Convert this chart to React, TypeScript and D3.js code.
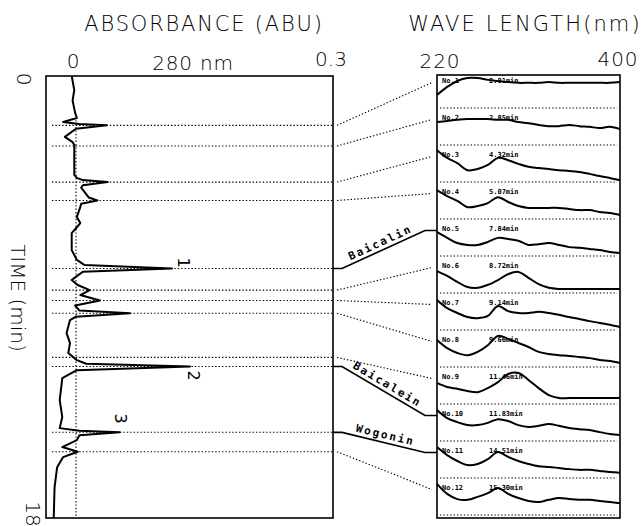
import React from "react";
import * as d3 from "d3";

// chromatogram at 280 nm, time (min) vs absorbance (ABU)
const traceTime = [
  0, 0.57, 1.0, 1.5, 1.71, 1.87, 1.95, 2.01, 2.15, 2.48, 2.69, 2.81, 4.03, 4.15, 4.24, 4.32, 4.45,
  4.55, 4.77, 4.95, 5.07, 5.2, 5.34, 5.74, 5.99, 6.2, 6.4, 7.09, 7.49, 7.7, 7.84, 7.97, 8.2, 8.31,
  8.51, 8.72, 8.92, 9.14, 9.35, 9.55, 9.66, 9.8, 9.94, 10.47, 10.88, 11.28, 11.57, 11.72, 11.83,
  11.98, 12.3, 13.2, 13.89, 14.34, 14.45, 14.51, 14.63, 14.83, 15.11, 15.3, 15.52, 15.93, 16.74, 18,
];
const traceAbs = [
  -0.005, -0.002, -0.004, -0.001, 0.001, -0.015, 0.004, 0.036, 0.0, -0.013, -0.004, -0.002, -0.002,
  0.001, 0.008, 0.037, 0.008, 0.006, 0.011, 0.015, 0.025, 0.006, 0.005, 0.001, 0.005, 0.0, -0.005,
  -0.005, 0.001, 0.01, 0.112, 0.008, -0.001, -0.005, 0.002, 0.016, 0.005, 0.028, -0.001, 0.004,
  0.063, 0.0, -0.007, -0.011, -0.007, -0.009, 0.001, 0.012, 0.133, 0.001, -0.016, -0.019, -0.016,
  -0.019, 0.004, 0.051, 0.004, 0.001, -0.016, 0.002, -0.015, -0.022, -0.025, -0.026,
];

// peaks whose spectra are shown on the right
const peakNo = [1, 2, 3, 4, 5, 6, 7, 8, 9, 10, 11, 12];
const peakTime = [2.01, 2.85, 4.32, 5.07, 7.84, 8.72, 9.14, 9.66, 11.46, 11.83, 14.51, 15.3];

const compoundPeak = [5, 10, 11];
const compoundName = ["Baicalin", "Baicalein", "Wogonin"];

const markText = ["1", "2", "3"];
const markTime = [7.6, 12.2, 13.95];
const markAbs = [0.125, 0.137, 0.052];

// UV spectra, relative absorbance per panel
const wavelengths = [220, 230, 240, 250, 260, 270, 280, 290, 300, 310, 320, 330, 340, 350, 360, 370, 380, 390, 400];
const spectra = [
  [0.35, 0.57, 0.73, 0.81, 0.81, 0.76, 0.73, 0.7, 0.68, 0.68, 0.68, 0.7, 0.68, 0.68, 0.68, 0.68, 0.68, 0.68, 0.7],
  [0.62, 0.65, 0.68, 0.7, 0.7, 0.7, 0.68, 0.68, 0.62, 0.59, 0.54, 0.51, 0.51, 0.54, 0.51, 0.49, 0.46, 0.49, 0.43],
  [0.86, 0.65, 0.51, 0.32, 0.35, 0.46, 0.65, 0.59, 0.49, 0.41, 0.38, 0.35, 0.32, 0.3, 0.27, 0.22, 0.16, 0.11, 0.05],
  [0.78, 0.62, 0.49, 0.32, 0.35, 0.43, 0.59, 0.46, 0.35, 0.3, 0.3, 0.3, 0.3, 0.27, 0.24, 0.24, 0.19, 0.16, 0.11],
  [0.65, 0.49, 0.35, 0.3, 0.3, 0.38, 0.49, 0.46, 0.41, 0.3, 0.32, 0.35, 0.3, 0.24, 0.22, 0.19, 0.16, 0.11, 0.08],
  [0.59, 0.46, 0.3, 0.16, 0.14, 0.22, 0.35, 0.51, 0.57, 0.41, 0.24, 0.14, 0.11, 0.11, 0.11, 0.11, 0.11, 0.11, 0.11],
  [0.81, 0.59, 0.46, 0.35, 0.32, 0.38, 0.65, 0.51, 0.46, 0.46, 0.49, 0.46, 0.41, 0.35, 0.3, 0.24, 0.19, 0.14, 0.08],
  [0.73, 0.51, 0.38, 0.32, 0.41, 0.59, 0.84, 0.76, 0.65, 0.54, 0.41, 0.35, 0.32, 0.3, 0.27, 0.24, 0.19, 0.16, 0.11],
  [0.57, 0.46, 0.41, 0.35, 0.32, 0.43, 0.59, 0.81, 0.84, 0.65, 0.43, 0.24, 0.16, 0.16, 0.16, 0.16, 0.16, 0.16, 0.16],
  [0.84, 0.62, 0.51, 0.43, 0.43, 0.49, 0.59, 0.54, 0.43, 0.38, 0.41, 0.46, 0.41, 0.35, 0.32, 0.3, 0.24, 0.19, 0.16],
  [0.84, 0.62, 0.46, 0.35, 0.38, 0.51, 0.7, 0.57, 0.46, 0.38, 0.32, 0.3, 0.27, 0.24, 0.22, 0.22, 0.19, 0.16, 0.14],
  [0.84, 0.57, 0.43, 0.41, 0.49, 0.59, 0.73, 0.57, 0.46, 0.38, 0.35, 0.41, 0.46, 0.43, 0.41, 0.41, 0.38, 0.35, 0.32],
];

const W = 643;
const H = 526;
const bigFont = "DejaVu Sans, sans-serif";
const monoFont = "DejaVu Sans Mono, monospace";

export default function App() {
  // left panel (chromatogram, rotated: time runs down)
  const left = { x0: 46, x1: 333, y0: 76, y1: 518 };
  const absX = d3.scaleLinear().domain([0, 0.3]).range([76, left.x1]);
  const timeY = d3.scaleLinear().domain([0, 18]).range([left.y0, left.y1]);

  // right panel (spectra)
  const right = { x0: 437, x1: 620, y0: 75, y1: 518 };
  const waveX = d3.scaleLinear().domain([220, 400]).range([right.x0, right.x1]);
  const band = d3.scaleBand<number>().domain(peakNo).range([71, 515]).paddingInner(0);
  const bh = band.bandwidth();

  const trace = d3
    .line<number>()
    .x((_, i) => absX(traceAbs[i]))
    .y((t) => timeY(t))
    .curve(d3.curveLinear)(traceTime);

  const specLine = (k: number) =>
    d3
      .line<number>()
      .x((w) => waveX(w))
      .y((_, i) => (band(k) as number) + bh - spectra[k - 1][i] * bh)
      .curve(d3.curveCatmullRom.alpha(0.5))(wavelengths);

  const dotted = { stroke: "#000", strokeWidth: 1.1, strokeDasharray: "1.4 2", fill: "none" };

  return (
    <svg
      width={W}
      height={H}
      style={{ position: "absolute", left: 0, top: 0, background: "#fff" }}
      fontFamily={bigFont}
    >
      <rect width={W} height={H} fill="#fff" />

      {/* titles */}
      <text x={204} y={31} fontSize={21} textAnchor="middle" fontWeight={300} letterSpacing={1.8}>
        ABSORBANCE (ABU)
      </text>
      <text x={525} y={31} fontSize={21} textAnchor="middle" fontWeight={300} letterSpacing={2.1}>
        WAVE LENGTH(nm)
      </text>

      {/* top tick labels */}
      <g fontSize={20} fontWeight={300} textAnchor="middle">
        <text x={absX(0) - 3} y={68}>0</text>
        <text x={193} y={70} letterSpacing={0.8}>280 nm</text>
        <text x={absX(0.3) - 2} y={66}>0.3</text>
        <text x={waveX(220) + 3} y={68} letterSpacing={1}>220</text>
        <text x={waveX(400) - 2} y={66} letterSpacing={1}>400</text>
      </g>

      {/* rotated time labels */}
      <g fontSize={20} fontWeight={300} textAnchor="middle" dominantBaseline="central">
        <text transform={`translate(24,${timeY(0) + 3}) rotate(90)`}>0</text>
        <text transform={`translate(33,${timeY(18) - 4}) rotate(90)`}>18</text>
        <text transform={`translate(18,298) rotate(90)`}>TIME (min)</text>
      </g>

      {/* left frame */}
      <rect x={left.x0} y={left.y0} width={left.x1 - left.x0} height={left.y1 - left.y0} fill="none" stroke="#000" strokeWidth={1.6} />
      <line x1={absX(0)} x2={absX(0)} y1={timeY(1.8)} y2={left.y1} {...dotted} />

      {/* peak time lines across the chromatogram */}
      {peakTime.map((t, i) => (
        <line key={"h" + i} x1={52} x2={left.x1} y1={timeY(t)} y2={timeY(t)} {...dotted} />
      ))}

      <path d={trace ?? ""} fill="none" stroke="#000" strokeWidth={2} strokeLinejoin="round" />

      {markText.map((m, i) => (
        <text
          key={"m" + i}
          transform={`translate(${absX(markAbs[i])},${timeY(markTime[i])}) rotate(90)`}
          fontSize={16}
          textAnchor="middle"
          dominantBaseline="central"
        >
          {m}
        </text>
      ))}

      {/* connectors */}
      {peakNo.map((k, i) => {
        const yL = timeY(peakTime[i]);
        const yR = (band(k) as number) + 11.5;
        const ci = compoundPeak.indexOf(k);
        if (ci < 0) {
          return <line key={"c" + k} x1={337} y1={yL} x2={432} y2={yR} {...dotted} />;
        }
        const ax = 342;
        const bx = 425;
        const mx = (ax + bx) / 2;
        const my = (yL + yR) / 2;
        const ang = (Math.atan2(yR - yL, bx - ax) * 180) / Math.PI;
        return (
          <g key={"c" + k}>
            <path
              d={`M${left.x1},${yL}L${ax},${yL}L${bx},${yR}L${right.x0},${yR}`}
              fill="none"
              stroke="#000"
              strokeWidth={1.7}
            />
            <text
              transform={`translate(${mx},${my}) rotate(${ang})`}
              y={-4}
              fontFamily={monoFont}
              fontWeight="bold"
              fontSize={11}
              letterSpacing={2}
              textAnchor="middle"
            >
              {compoundName[ci]}
            </text>
          </g>
        );
      })}

      {/* right frame with spectra */}
      <rect x={right.x0} y={right.y0} width={right.x1 - right.x0} height={right.y1 - right.y0} fill="none" stroke="#000" strokeWidth={1.6} />
      {peakNo.map((k, i) => {
        const top = band(k) as number;
        return (
          <g key={"s" + k}>
            <line x1={right.x0 + 3} x2={right.x1 - 3} y1={top + bh} y2={top + bh} {...dotted} />
            <text x={right.x0 + 5} y={top + 11.5} fontFamily={monoFont} fontWeight="bold" fontSize={7}>
              {"No." + k}
            </text>
            <text x={489} y={top + 11.5} fontFamily={monoFont} fontWeight="bold" fontSize={7}>
              {peakTime[i].toFixed(2) + "min"}
            </text>
            <path d={specLine(k) ?? ""} fill="none" stroke="#000" strokeWidth={2} strokeLinejoin="round" />
          </g>
        );
      })}
    </svg>
  );
}
